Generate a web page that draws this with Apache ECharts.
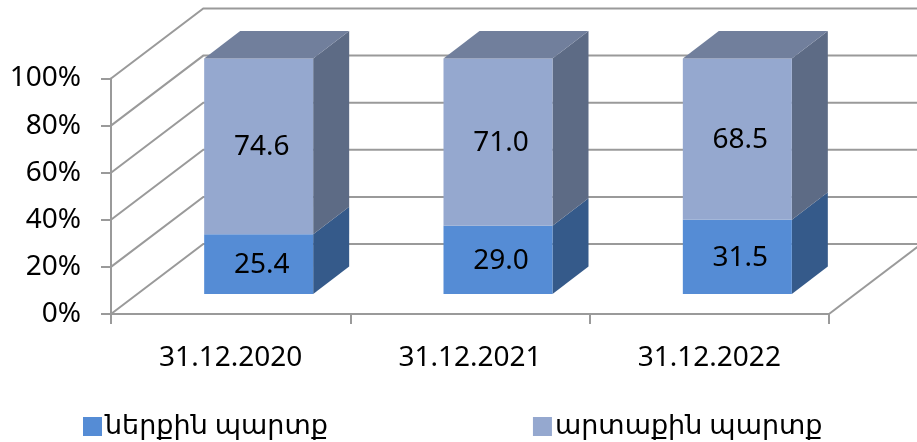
<!DOCTYPE html>
<html><head><meta charset="utf-8">
<style>html,body{margin:0;padding:0;background:#fff}#c{width:917px;height:442px}</style>
<script src="https://cdn.jsdelivr.net/npm/echarts@6/dist/echarts.min.js"></script>
</head><body><div id="c"></div>
<script>
const categories = ['31.12.2020', '31.12.2021', '31.12.2022'];
const domesticName = 'ներքին պարտք';
const externalName = 'արտաքին պարտք';
const domestic = [25.4, 29.0, 31.5];
const external = [74.6, 71.0, 68.5];
const yTicks = [0, 20, 40, 60, 80, 100];

const FONT = '"Noto Sans","DejaVu Sans",sans-serif';
const GRAY = '#9a9a9a';
const LW = 2;
const wall = {dx: 92.3, dy: -70};
const bar = {dx: 28, dy: -20, w: 109, sx: 36, sy: -27.5};

const chart = echarts.init(document.getElementById('c'), null, {renderer: 'canvas'});

function renderWall(params, api) {
  const v = api.value(0);
  const cs = params.coordSys;
  const y = api.coord([0, v])[1];
  const x0 = cs.x, x1 = cs.x + cs.width;
  const children = [{
    type: 'polyline',
    shape: {points: [[x0, y], [x0 + wall.dx, y + wall.dy], [x1 + wall.dx, y + wall.dy]]},
    style: {stroke: GRAY, lineWidth: LW, fill: null}
  }];
  if (v === 0) {
    children.push({
      type: 'line',
      shape: {x1: x1, y1: y, x2: x1 + wall.dx, y2: y + wall.dy},
      style: {stroke: GRAY, lineWidth: LW}
    });
  }
  return {type: 'group', children};
}

function makeBarRenderer(front, side, top, withTop) {
  return function (params, api) {
    const cat = api.value(0), a = api.value(1), b = api.value(2);
    const cx = api.coord([cat, 0])[0] + bar.dx;
    const yA = api.coord([cat, a])[1] + bar.dy;
    const yB = api.coord([cat, b])[1] + bar.dy;
    const L = cx - bar.w / 2, R = cx + bar.w / 2;
    const children = [{
      type: 'polygon',
      shape: {points: [[R, yA], [R + bar.sx, yA + bar.sy], [R + bar.sx, yB + bar.sy], [R, yB]]},
      style: {fill: side}
    }, {
      type: 'rect',
      shape: {x: L, y: yB, width: bar.w, height: yA - yB},
      style: {fill: front}
    }];
    if (withTop) {
      children.push({
        type: 'polygon',
        shape: {points: [[L, yB], [R, yB], [R + bar.sx, yB + bar.sy], [L + bar.sx, yB + bar.sy]]},
        style: {fill: top}
      });
    }
    children.push({
      type: 'text',
      style: {
        x: cx + 3, y: (yA + yB) / 2 + 1,
        text: (b - a).toFixed(1),
        fill: '#000', font: '28px ' + FONT,
        align: 'center', verticalAlign: 'middle'
      }
    });
    return {type: 'group', children};
  };
}

const domesticData = domestic.map((v, i) => [i, 0, v]);
const externalData = external.map((v, i) => [i, domestic[i], domestic[i] + v]);

chart.setOption({
  animation: false,
  backgroundColor: '#fff',
  textStyle: {fontFamily: FONT},
  grid: {left: 111, right: 88, top: 78.5, height: 235.5, containLabel: false},
  legend: {
    left: 78, top: 408,
    itemWidth: 19, itemHeight: 19, itemGap: 205,
    icon: 'rect',
    textStyle: {fontSize: 27, color: '#000', fontFamily: FONT, padding: [0, 0, 0, -2]},
    data: [
      {name: domesticName, itemStyle: {color: '#558CD5'}},
      {name: externalName, itemStyle: {color: '#95A8CF'}}
    ]
  },
  xAxis: {
    type: 'category', data: categories,
    axisLine: {show: true, lineStyle: {color: GRAY, width: LW}},
    axisTick: {show: true, length: 10, alignWithLabel: false, lineStyle: {color: GRAY, width: LW}},
    axisLabel: {fontSize: 28, color: '#000', margin: 30, fontFamily: FONT, interval: 0},
    splitLine: {show: false}
  },
  yAxis: {
    type: 'value', min: 0, max: 100, interval: 20,
    axisLine: {show: true, lineStyle: {color: GRAY, width: LW}},
    axisTick: {show: true, length: 10, lineStyle: {color: GRAY, width: LW}},
    axisLabel: {fontSize: 28, color: '#000', margin: 30, formatter: '{value}%', fontFamily: FONT, padding: [8, 0, 0, 0]},
    splitLine: {show: false}
  },
  series: [
    {type: 'custom', name: 'wall', silent: true, clip: false, z: 1, coordinateSystem: 'cartesian2d',
      data: yTicks.map(v => [v]), encode: {y: 0}, renderItem: renderWall},
    {type: 'custom', name: domesticName, clip: false, z: 2, coordinateSystem: 'cartesian2d',
      itemStyle: {color: '#558CD5'}, data: domesticData, encode: {x: 0, y: [1, 2]},
      renderItem: makeBarRenderer('#558CD5', '#355A8A', '#355A8A', false)},
    {type: 'custom', name: externalName, clip: false, z: 3, coordinateSystem: 'cartesian2d',
      itemStyle: {color: '#95A8CF'}, data: externalData, encode: {x: 0, y: [1, 2]},
      renderItem: makeBarRenderer('#95A8CF', '#5D6B85', '#717F9C', true)}
  ]
});
</script></body></html>
